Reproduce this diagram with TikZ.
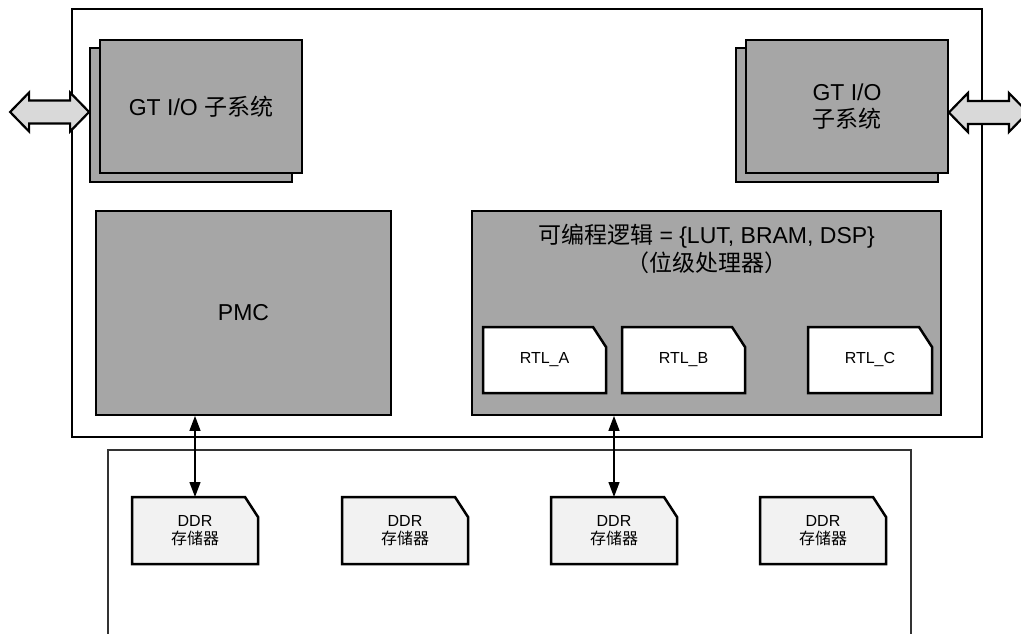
\documentclass[tikz,border=0pt]{standalone}
\usepackage{fontspec}
\setmainfont{Liberation Sans}
\newfontfamily\cjk{Noto Sans CJK SC}
\usetikzlibrary{arrows.meta}
\definecolor{boxgray}{RGB}{166,166,166}
\definecolor{ddrfill}{RGB}{242,242,242}
\definecolor{arrowfill}{RGB}{217,217,217}
\newcommand\bigfont{\fontsize{23}{27.5}\selectfont}
\newcommand\smallfont{\fontsize{16}{18}\selectfont}
% #1 name, #2 centre x, #3 centre y, #4 width, #5 height, #6 fill
\newcommand\tagbox[6]{%
  \filldraw[tagline, fill=#6] ({#2-#4/2},{#3+#5/2}) -- ({#2-#4/2},{#3-#5/2})
    -- ({#2+#4/2-13},{#3-#5/2}) -- ({#2+#4/2},{#3-#5/2+20})
    -- ({#2+#4/2},{#3+#5/2}) -- cycle;
  \node[tagtext, minimum width=#4pt, minimum height=#5pt] (#1) at (#2,#3)}
\begin{document}
\begin{tikzpicture}[x=1pt,y=-1pt,
  outerbox/.style={draw=black, line width=1.8pt, inner sep=0pt, outer sep=0pt},
  membox/.style={draw=black!80, line width=1.4pt, inner sep=0pt, outer sep=0pt},
  graybox/.style={draw=black, line width=1.8pt, fill=boxgray, inner sep=0pt, align=center, font=\bigfont},
  tagline/.style={draw=black, line width=2.5pt, line join=miter},
  tagtext/.style={inner sep=0pt, outer sep=0pt, align=center, font=\smallfont},
  fatarrow/.style={draw=black, line width=2.2pt, fill=arrowfill, line join=miter},
  link/.style={line width=1.3pt, {Triangle[length=15pt,width=11pt]}-{Triangle[length=15pt,width=11pt]}}
]
\useasboundingbox (0,0) rectangle (1021,634);
\clip (0,0) rectangle (1021,634);

% containers
\node[outerbox, minimum width=910pt, minimum height=428pt] (chip) at (527,223) {};
\node[membox, minimum width=803pt, minimum height=220pt] (mem) at (509.5,560) {};

% GT I/O subsystems
\node[graybox, minimum width=202pt, minimum height=134pt] (gtLb) at (191,115) {};
\node[graybox, minimum width=202pt, minimum height=133pt] (gtLf) at (201,106.5) {GT I/O {\cjk 子系统}};
\node[graybox, minimum width=202pt, minimum height=134pt] (gtRb) at (837,115) {};
\node[graybox, minimum width=202pt, minimum height=133pt] (gtRf) at (847,106.5) {GT I/O\\{\cjk 子系统}};

% fat double arrows
\draw[fatarrow] ([yshift=3pt]gtLb.west) -- ++(-19,-19.5) -- ++(0,8) -- ++(-41,0) -- ++(0,-8)
  -- ++(-19,19.5) -- ++(19,19.5) -- ++(0,-8) -- ++(41,0) -- ++(0,8) -- cycle;
\draw[fatarrow] ([yshift=-6pt]gtRf.east) -- ++(19,-19.5) -- ++(0,8) -- ++(41,0) -- ++(0,-8)
  -- ++(19,19.5) -- ++(-19,19.5) -- ++(0,-8) -- ++(-41,0) -- ++(0,8) -- cycle;

% PMC and programmable logic
\node[graybox, minimum width=295pt, minimum height=204pt] (pmc) at (243.5,313) {PMC};
\node[graybox, minimum width=469pt, minimum height=204pt] (pl) at (706.5,313) {};
\node[align=center, font=\bigfont, inner sep=0pt] (pltext) at (706.5,249)
  {{\cjk 可编程逻辑} = \{LUT, BRAM, DSP\}\\{\cjk （位级处理器）}};

% RTL blocks
\tagbox{rtlA}{544.5}{360}{123}{66}{white} {RTL\_A};
\tagbox{rtlB}{683.5}{360}{123}{66}{white} {RTL\_B};
\tagbox{rtlC}{870}{360}{124}{66}{white} {RTL\_C};

% DDR memories
\tagbox{ddrA}{195}{530.5}{126}{67}{ddrfill} {DDR\\{\cjk 存储器}};
\tagbox{ddrB}{405}{530.5}{126}{67}{ddrfill} {DDR\\{\cjk 存储器}};
\tagbox{ddrC}{614}{530.5}{126}{67}{ddrfill} {DDR\\{\cjk 存储器}};
\tagbox{ddrD}{823}{530.5}{126}{67}{ddrfill} {DDR\\{\cjk 存储器}};

% memory links
\draw[link] (ddrA.north) -- (ddrA.north |- pmc.south);
\draw[link] (ddrC.north) -- (ddrC.north |- pl.south);
\end{tikzpicture}
\end{document}
